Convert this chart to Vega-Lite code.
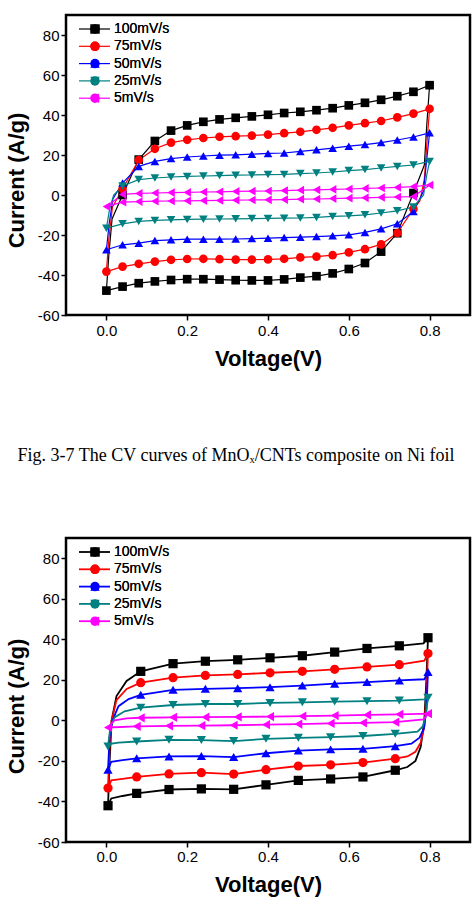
{
"$schema": "https://vega.github.io/schema/vega-lite/v6.json",
"background": "white",
"padding": {"left": 4, "top": 13, "right": 0, "bottom": 0},
"config": {
  "view": {"stroke": "black", "strokeWidth": 2.5},
  "axis": {"labelFont": "Liberation Sans", "labelFontSize": 15, "labelColor": "black", "titleFont": "Liberation Sans", "titleFontSize": 22, "titleFontWeight": "bold", "titleColor": "black", "grid": false, "domain": false, "tickColor": "black", "tickWidth": 1.5, "tickSize": 5},
  "legend": {"labelFont": "Liberation Sans", "labelColor": "black", "labelFontSize": 14, "padding": 0},
  "title": {"font": "Liberation Serif", "fontSize": 18, "fontWeight": "normal", "color": "black"}
},
"datasets": {
"a": [
{"s":"100mV/s","i":0,"v":0,"c":-47.8},{"s":"100mV/s","i":1,"v":0.006,"c":-30,"m":0},{"s":"100mV/s","i":2,"v":0.014,"c":-12,"m":0},{"s":"100mV/s","i":3,"v":0.04,"c":0},{"s":"100mV/s","i":4,"v":0.08,"c":17.7},{"s":"100mV/s","i":5,"v":0.12,"c":27.0},{"s":"100mV/s","i":6,"v":0.16,"c":32.2},{"s":"100mV/s","i":7,"v":0.2,"c":34.8},{"s":"100mV/s","i":8,"v":0.24,"c":36.6},{"s":"100mV/s","i":9,"v":0.28,"c":37.8},{"s":"100mV/s","i":10,"v":0.32,"c":38.6},{"s":"100mV/s","i":11,"v":0.36,"c":39.3},{"s":"100mV/s","i":12,"v":0.4,"c":40.1},{"s":"100mV/s","i":13,"v":0.44,"c":41.0},{"s":"100mV/s","i":14,"v":0.48,"c":41.6},{"s":"100mV/s","i":15,"v":0.52,"c":42.4},{"s":"100mV/s","i":16,"v":0.56,"c":43.4},{"s":"100mV/s","i":17,"v":0.6,"c":44.8},{"s":"100mV/s","i":18,"v":0.64,"c":46.1},{"s":"100mV/s","i":19,"v":0.68,"c":47.6},{"s":"100mV/s","i":20,"v":0.72,"c":49.4},{"s":"100mV/s","i":21,"v":0.76,"c":51.6},{"s":"100mV/s","i":22,"v":0.8,"c":54.9},{"s":"100mV/s","i":23,"v":0.793,"c":35,"m":0},{"s":"100mV/s","i":24,"v":0.787,"c":15,"m":0},{"s":"100mV/s","i":25,"v":0.76,"c":1.0},{"s":"100mV/s","i":26,"v":0.72,"c":-19.1},{"s":"100mV/s","i":27,"v":0.68,"c":-28.3},{"s":"100mV/s","i":28,"v":0.64,"c":-34.0},{"s":"100mV/s","i":29,"v":0.6,"c":-37.0},{"s":"100mV/s","i":30,"v":0.56,"c":-39.2},{"s":"100mV/s","i":31,"v":0.52,"c":-40.6},{"s":"100mV/s","i":32,"v":0.48,"c":-41.3},{"s":"100mV/s","i":33,"v":0.44,"c":-42.2},{"s":"100mV/s","i":34,"v":0.4,"c":-42.7},{"s":"100mV/s","i":35,"v":0.36,"c":-42.7},{"s":"100mV/s","i":36,"v":0.32,"c":-42.6},{"s":"100mV/s","i":37,"v":0.28,"c":-42.3},{"s":"100mV/s","i":38,"v":0.24,"c":-42.1},{"s":"100mV/s","i":39,"v":0.2,"c":-42.1},{"s":"100mV/s","i":40,"v":0.16,"c":-42.5},{"s":"100mV/s","i":41,"v":0.12,"c":-43.2},{"s":"100mV/s","i":42,"v":0.08,"c":-44.1},{"s":"100mV/s","i":43,"v":0.04,"c":-45.8},{"s":"100mV/s","i":44,"v":0,"c":-47.8,"m":0},
{"s":"75mV/s","i":0,"v":0,"c":-38.3},{"s":"75mV/s","i":1,"v":0.006,"c":-22,"m":0},{"s":"75mV/s","i":2,"v":0.015,"c":-6,"m":0},{"s":"75mV/s","i":3,"v":0.04,"c":3.0},{"s":"75mV/s","i":4,"v":0.08,"c":17.5},{"s":"75mV/s","i":5,"v":0.12,"c":23.1},{"s":"75mV/s","i":6,"v":0.16,"c":26.2},{"s":"75mV/s","i":7,"v":0.2,"c":27.6},{"s":"75mV/s","i":8,"v":0.24,"c":28.5},{"s":"75mV/s","i":9,"v":0.28,"c":29.1},{"s":"75mV/s","i":10,"v":0.32,"c":29.4},{"s":"75mV/s","i":11,"v":0.36,"c":29.7},{"s":"75mV/s","i":12,"v":0.4,"c":30.2},{"s":"75mV/s","i":13,"v":0.44,"c":30.9},{"s":"75mV/s","i":14,"v":0.48,"c":31.6},{"s":"75mV/s","i":15,"v":0.52,"c":32.6},{"s":"75mV/s","i":16,"v":0.56,"c":33.6},{"s":"75mV/s","i":17,"v":0.6,"c":34.8},{"s":"75mV/s","i":18,"v":0.64,"c":35.9},{"s":"75mV/s","i":19,"v":0.68,"c":37.0},{"s":"75mV/s","i":20,"v":0.72,"c":38.8},{"s":"75mV/s","i":21,"v":0.76,"c":40.7},{"s":"75mV/s","i":22,"v":0.8,"c":43.1},{"s":"75mV/s","i":23,"v":0.793,"c":25,"m":0},{"s":"75mV/s","i":24,"v":0.787,"c":8,"m":0},{"s":"75mV/s","i":25,"v":0.776,"c":-3,"m":0},{"s":"75mV/s","i":26,"v":0.76,"c":-7},{"s":"75mV/s","i":27,"v":0.72,"c":-19.0},{"s":"75mV/s","i":28,"v":0.68,"c":-24.7},{"s":"75mV/s","i":29,"v":0.64,"c":-27.1},{"s":"75mV/s","i":30,"v":0.6,"c":-28.7},{"s":"75mV/s","i":31,"v":0.56,"c":-30.1},{"s":"75mV/s","i":32,"v":0.52,"c":-30.8},{"s":"75mV/s","i":33,"v":0.48,"c":-31.2},{"s":"75mV/s","i":34,"v":0.44,"c":-31.9},{"s":"75mV/s","i":35,"v":0.4,"c":-32.2},{"s":"75mV/s","i":36,"v":0.36,"c":-32.3},{"s":"75mV/s","i":37,"v":0.32,"c":-32.3},{"s":"75mV/s","i":38,"v":0.28,"c":-32.1},{"s":"75mV/s","i":39,"v":0.24,"c":-31.9},{"s":"75mV/s","i":40,"v":0.2,"c":-32.0},{"s":"75mV/s","i":41,"v":0.16,"c":-32.4},{"s":"75mV/s","i":42,"v":0.12,"c":-33.3},{"s":"75mV/s","i":43,"v":0.08,"c":-34.4},{"s":"75mV/s","i":44,"v":0.04,"c":-35.8},{"s":"75mV/s","i":45,"v":0,"c":-38.3,"m":0},
{"s":"50mV/s","i":0,"v":0,"c":-27.4},{"s":"50mV/s","i":1,"v":0.007,"c":-14,"m":0},{"s":"50mV/s","i":2,"v":0.016,"c":-2,"m":0},{"s":"50mV/s","i":3,"v":0.04,"c":6.0},{"s":"50mV/s","i":4,"v":0.08,"c":14.3},{"s":"50mV/s","i":5,"v":0.12,"c":16.8},{"s":"50mV/s","i":6,"v":0.16,"c":18.2},{"s":"50mV/s","i":7,"v":0.2,"c":19.0},{"s":"50mV/s","i":8,"v":0.24,"c":19.5},{"s":"50mV/s","i":9,"v":0.28,"c":19.9},{"s":"50mV/s","i":10,"v":0.32,"c":20.1},{"s":"50mV/s","i":11,"v":0.36,"c":20.4},{"s":"50mV/s","i":12,"v":0.4,"c":20.8},{"s":"50mV/s","i":13,"v":0.44,"c":21.0},{"s":"50mV/s","i":14,"v":0.48,"c":21.8},{"s":"50mV/s","i":15,"v":0.52,"c":22.6},{"s":"50mV/s","i":16,"v":0.56,"c":23.4},{"s":"50mV/s","i":17,"v":0.6,"c":24.4},{"s":"50mV/s","i":18,"v":0.64,"c":25.2},{"s":"50mV/s","i":19,"v":0.68,"c":26.2},{"s":"50mV/s","i":20,"v":0.72,"c":27.5},{"s":"50mV/s","i":21,"v":0.76,"c":29.0},{"s":"50mV/s","i":22,"v":0.8,"c":31.1},{"s":"50mV/s","i":23,"v":0.793,"c":18,"m":0},{"s":"50mV/s","i":24,"v":0.785,"c":2,"m":0},{"s":"50mV/s","i":25,"v":0.76,"c":-8.2},{"s":"50mV/s","i":26,"v":0.72,"c":-14.4},{"s":"50mV/s","i":27,"v":0.68,"c":-16.9},{"s":"50mV/s","i":28,"v":0.64,"c":-18.7},{"s":"50mV/s","i":29,"v":0.6,"c":-19.9},{"s":"50mV/s","i":30,"v":0.56,"c":-20.4},{"s":"50mV/s","i":31,"v":0.52,"c":-20.8},{"s":"50mV/s","i":32,"v":0.48,"c":-21.1},{"s":"50mV/s","i":33,"v":0.44,"c":-21.3},{"s":"50mV/s","i":34,"v":0.4,"c":-21.6},{"s":"50mV/s","i":35,"v":0.36,"c":-21.8},{"s":"50mV/s","i":36,"v":0.32,"c":-22.0},{"s":"50mV/s","i":37,"v":0.28,"c":-22.1},{"s":"50mV/s","i":38,"v":0.24,"c":-22.1},{"s":"50mV/s","i":39,"v":0.2,"c":-22.1},{"s":"50mV/s","i":40,"v":0.16,"c":-22.4},{"s":"50mV/s","i":41,"v":0.12,"c":-22.8},{"s":"50mV/s","i":42,"v":0.08,"c":-24.1},{"s":"50mV/s","i":43,"v":0.04,"c":-24.9},{"s":"50mV/s","i":44,"v":0,"c":-27.4,"m":0},
{"s":"25mV/s","i":0,"v":0,"c":-16.6},{"s":"25mV/s","i":1,"v":0.008,"c":-7,"m":0},{"s":"25mV/s","i":2,"v":0.018,"c":0,"m":0},{"s":"25mV/s","i":3,"v":0.04,"c":4.5},{"s":"25mV/s","i":4,"v":0.08,"c":7.7},{"s":"25mV/s","i":5,"v":0.12,"c":8.5},{"s":"25mV/s","i":6,"v":0.16,"c":9.0},{"s":"25mV/s","i":7,"v":0.2,"c":9.3},{"s":"25mV/s","i":8,"v":0.24,"c":9.5},{"s":"25mV/s","i":9,"v":0.28,"c":9.7},{"s":"25mV/s","i":10,"v":0.32,"c":9.9},{"s":"25mV/s","i":11,"v":0.36,"c":10.0},{"s":"25mV/s","i":12,"v":0.4,"c":10.2},{"s":"25mV/s","i":13,"v":0.44,"c":10.3},{"s":"25mV/s","i":14,"v":0.48,"c":10.7},{"s":"25mV/s","i":15,"v":0.52,"c":11.0},{"s":"25mV/s","i":16,"v":0.56,"c":11.5},{"s":"25mV/s","i":17,"v":0.6,"c":12.2},{"s":"25mV/s","i":18,"v":0.64,"c":12.7},{"s":"25mV/s","i":19,"v":0.68,"c":13.5},{"s":"25mV/s","i":20,"v":0.72,"c":14.3},{"s":"25mV/s","i":21,"v":0.76,"c":15.0},{"s":"25mV/s","i":22,"v":0.8,"c":16.8},{"s":"25mV/s","i":23,"v":0.793,"c":10,"m":0},{"s":"25mV/s","i":24,"v":0.785,"c":0,"m":0},{"s":"25mV/s","i":25,"v":0.76,"c":-6.0},{"s":"25mV/s","i":26,"v":0.72,"c":-7.9},{"s":"25mV/s","i":27,"v":0.68,"c":-9.0},{"s":"25mV/s","i":28,"v":0.64,"c":-9.9},{"s":"25mV/s","i":29,"v":0.6,"c":-10.4},{"s":"25mV/s","i":30,"v":0.56,"c":-10.7},{"s":"25mV/s","i":31,"v":0.52,"c":-11.2},{"s":"25mV/s","i":32,"v":0.48,"c":-11.5},{"s":"25mV/s","i":33,"v":0.44,"c":-11.6},{"s":"25mV/s","i":34,"v":0.4,"c":-11.7},{"s":"25mV/s","i":35,"v":0.36,"c":-11.8},{"s":"25mV/s","i":36,"v":0.32,"c":-11.9},{"s":"25mV/s","i":37,"v":0.28,"c":-12.0},{"s":"25mV/s","i":38,"v":0.24,"c":-12.1},{"s":"25mV/s","i":39,"v":0.2,"c":-12.2},{"s":"25mV/s","i":40,"v":0.16,"c":-12.4},{"s":"25mV/s","i":41,"v":0.12,"c":-12.7},{"s":"25mV/s","i":42,"v":0.08,"c":-13.2},{"s":"25mV/s","i":43,"v":0.04,"c":-14.4},{"s":"25mV/s","i":44,"v":0,"c":-16.6,"m":0},
{"s":"5mV/s","i":0,"v":0,"c":-5.8},{"s":"5mV/s","i":1,"v":0.04,"c":0.3},{"s":"5mV/s","i":2,"v":0.08,"c":0.8},{"s":"5mV/s","i":3,"v":0.12,"c":1.0},{"s":"5mV/s","i":4,"v":0.16,"c":1.2},{"s":"5mV/s","i":5,"v":0.2,"c":1.3},{"s":"5mV/s","i":6,"v":0.24,"c":1.5},{"s":"5mV/s","i":7,"v":0.28,"c":1.6},{"s":"5mV/s","i":8,"v":0.32,"c":1.8},{"s":"5mV/s","i":9,"v":0.36,"c":1.9},{"s":"5mV/s","i":10,"v":0.4,"c":2.0},{"s":"5mV/s","i":11,"v":0.44,"c":2.2},{"s":"5mV/s","i":12,"v":0.48,"c":2.4},{"s":"5mV/s","i":13,"v":0.52,"c":2.6},{"s":"5mV/s","i":14,"v":0.56,"c":2.8},{"s":"5mV/s","i":15,"v":0.6,"c":3.0},{"s":"5mV/s","i":16,"v":0.64,"c":3.3},{"s":"5mV/s","i":17,"v":0.68,"c":3.5},{"s":"5mV/s","i":18,"v":0.72,"c":3.8},{"s":"5mV/s","i":19,"v":0.76,"c":4.2},{"s":"5mV/s","i":20,"v":0.8,"c":5.0},{"s":"5mV/s","i":21,"v":0.76,"c":-0.8},{"s":"5mV/s","i":22,"v":0.72,"c":-1.0},{"s":"5mV/s","i":23,"v":0.68,"c":-1.2},{"s":"5mV/s","i":24,"v":0.64,"c":-1.4},{"s":"5mV/s","i":25,"v":0.6,"c":-1.6},{"s":"5mV/s","i":26,"v":0.56,"c":-1.8},{"s":"5mV/s","i":27,"v":0.52,"c":-2.0},{"s":"5mV/s","i":28,"v":0.48,"c":-2.1},{"s":"5mV/s","i":29,"v":0.44,"c":-2.3},{"s":"5mV/s","i":30,"v":0.4,"c":-2.4},{"s":"5mV/s","i":31,"v":0.36,"c":-2.5},{"s":"5mV/s","i":32,"v":0.32,"c":-2.6},{"s":"5mV/s","i":33,"v":0.28,"c":-2.7},{"s":"5mV/s","i":34,"v":0.24,"c":-2.8},{"s":"5mV/s","i":35,"v":0.2,"c":-2.9},{"s":"5mV/s","i":36,"v":0.16,"c":-3.0},{"s":"5mV/s","i":37,"v":0.12,"c":-3.1},{"s":"5mV/s","i":38,"v":0.08,"c":-3.3},{"s":"5mV/s","i":39,"v":0.04,"c":-3.6},{"s":"5mV/s","i":40,"v":0,"c":-5.8,"m":0}
],
"b": [
{"s":"100mV/s","i":0,"v":0.004,"c":-42.1},{"s":"100mV/s","i":1,"v":0.008,"c":-20,"m":0},{"s":"100mV/s","i":2,"v":0.013,"c":0,"m":0},{"s":"100mV/s","i":3,"v":0.025,"c":12,"m":0},{"s":"100mV/s","i":4,"v":0.05,"c":19.5,"m":0},{"s":"100mV/s","i":5,"v":0.085,"c":24.2},{"s":"100mV/s","i":6,"v":0.165,"c":28.0},{"s":"100mV/s","i":7,"v":0.245,"c":29.2},{"s":"100mV/s","i":8,"v":0.325,"c":29.9},{"s":"100mV/s","i":9,"v":0.405,"c":30.9},{"s":"100mV/s","i":10,"v":0.485,"c":31.9},{"s":"100mV/s","i":11,"v":0.565,"c":33.7},{"s":"100mV/s","i":12,"v":0.645,"c":35.5},{"s":"100mV/s","i":13,"v":0.725,"c":36.8},{"s":"100mV/s","i":14,"v":0.785,"c":38,"m":0},{"s":"100mV/s","i":15,"v":0.796,"c":40.8},{"s":"100mV/s","i":16,"v":0.792,"c":20,"m":0},{"s":"100mV/s","i":17,"v":0.787,"c":0,"m":0},{"s":"100mV/s","i":18,"v":0.778,"c":-13,"m":0},{"s":"100mV/s","i":19,"v":0.765,"c":-20,"m":0},{"s":"100mV/s","i":20,"v":0.745,"c":-23,"m":0},{"s":"100mV/s","i":21,"v":0.715,"c":-24.6},{"s":"100mV/s","i":22,"v":0.635,"c":-27.9},{"s":"100mV/s","i":23,"v":0.555,"c":-28.9},{"s":"100mV/s","i":24,"v":0.475,"c":-29.6},{"s":"100mV/s","i":25,"v":0.395,"c":-31.8},{"s":"100mV/s","i":26,"v":0.315,"c":-34.0},{"s":"100mV/s","i":27,"v":0.235,"c":-33.8},{"s":"100mV/s","i":28,"v":0.155,"c":-34.1},{"s":"100mV/s","i":29,"v":0.075,"c":-36.0},{"s":"100mV/s","i":30,"v":0.04,"c":-37.3,"m":0},{"s":"100mV/s","i":31,"v":0.012,"c":-38.5,"m":0},{"s":"100mV/s","i":32,"v":0.004,"c":-42.1,"m":0},
{"s":"75mV/s","i":0,"v":0.004,"c":-33.4},{"s":"75mV/s","i":1,"v":0.008,"c":-12,"m":0},{"s":"75mV/s","i":2,"v":0.013,"c":0,"m":0},{"s":"75mV/s","i":3,"v":0.025,"c":10,"m":0},{"s":"75mV/s","i":4,"v":0.05,"c":15.5,"m":0},{"s":"75mV/s","i":5,"v":0.085,"c":18.6},{"s":"75mV/s","i":6,"v":0.165,"c":21.1},{"s":"75mV/s","i":7,"v":0.245,"c":22.2},{"s":"75mV/s","i":8,"v":0.325,"c":22.7},{"s":"75mV/s","i":9,"v":0.405,"c":23.5},{"s":"75mV/s","i":10,"v":0.485,"c":24.2},{"s":"75mV/s","i":11,"v":0.565,"c":25.2},{"s":"75mV/s","i":12,"v":0.645,"c":26.4},{"s":"75mV/s","i":13,"v":0.725,"c":27.5},{"s":"75mV/s","i":14,"v":0.787,"c":29.5,"m":0},{"s":"75mV/s","i":15,"v":0.796,"c":33.0},{"s":"75mV/s","i":16,"v":0.792,"c":12,"m":0},{"s":"75mV/s","i":17,"v":0.787,"c":-3,"m":0},{"s":"75mV/s","i":18,"v":0.778,"c":-11,"m":0},{"s":"75mV/s","i":19,"v":0.765,"c":-15.5,"m":0},{"s":"75mV/s","i":20,"v":0.745,"c":-17.8,"m":0},{"s":"75mV/s","i":21,"v":0.715,"c":-18.9},{"s":"75mV/s","i":22,"v":0.635,"c":-20.8},{"s":"75mV/s","i":23,"v":0.555,"c":-21.9},{"s":"75mV/s","i":24,"v":0.475,"c":-22.5},{"s":"75mV/s","i":25,"v":0.395,"c":-24.3},{"s":"75mV/s","i":26,"v":0.315,"c":-26.5},{"s":"75mV/s","i":27,"v":0.235,"c":-25.8},{"s":"75mV/s","i":28,"v":0.155,"c":-26.4},{"s":"75mV/s","i":29,"v":0.075,"c":-27.9},{"s":"75mV/s","i":30,"v":0.04,"c":-28.8,"m":0},{"s":"75mV/s","i":31,"v":0.012,"c":-29.6,"m":0},{"s":"75mV/s","i":32,"v":0.004,"c":-33.4,"m":0},
{"s":"50mV/s","i":0,"v":0.004,"c":-24.3},{"s":"50mV/s","i":1,"v":0.008,"c":-8,"m":0},{"s":"50mV/s","i":2,"v":0.015,"c":0,"m":0},{"s":"50mV/s","i":3,"v":0.03,"c":7,"m":0},{"s":"50mV/s","i":4,"v":0.055,"c":10.5,"m":0},{"s":"50mV/s","i":5,"v":0.085,"c":12.6},{"s":"50mV/s","i":6,"v":0.165,"c":15.1},{"s":"50mV/s","i":7,"v":0.245,"c":15.6},{"s":"50mV/s","i":8,"v":0.325,"c":15.9},{"s":"50mV/s","i":9,"v":0.405,"c":16.4},{"s":"50mV/s","i":10,"v":0.485,"c":17.2},{"s":"50mV/s","i":11,"v":0.565,"c":18.1},{"s":"50mV/s","i":12,"v":0.645,"c":18.9},{"s":"50mV/s","i":13,"v":0.725,"c":19.7},{"s":"50mV/s","i":14,"v":0.787,"c":20.3,"m":0},{"s":"50mV/s","i":15,"v":0.796,"c":23.9},{"s":"50mV/s","i":16,"v":0.792,"c":5,"m":0},{"s":"50mV/s","i":17,"v":0.786,"c":-4,"m":0},{"s":"50mV/s","i":18,"v":0.775,"c":-8.5,"m":0},{"s":"50mV/s","i":19,"v":0.755,"c":-11.5,"m":0},{"s":"50mV/s","i":20,"v":0.715,"c":-12.7},{"s":"50mV/s","i":21,"v":0.635,"c":-14.0},{"s":"50mV/s","i":22,"v":0.555,"c":-14.3},{"s":"50mV/s","i":23,"v":0.475,"c":-14.9},{"s":"50mV/s","i":24,"v":0.395,"c":-16.2},{"s":"50mV/s","i":25,"v":0.315,"c":-18.1},{"s":"50mV/s","i":26,"v":0.235,"c":-17.6},{"s":"50mV/s","i":27,"v":0.155,"c":-17.8},{"s":"50mV/s","i":28,"v":0.075,"c":-18.7},{"s":"50mV/s","i":29,"v":0.04,"c":-19.6,"m":0},{"s":"50mV/s","i":30,"v":0.012,"c":-20.4,"m":0},{"s":"50mV/s","i":31,"v":0.004,"c":-24.3,"m":0},
{"s":"25mV/s","i":0,"v":0.004,"c":-12.9},{"s":"25mV/s","i":1,"v":0.01,"c":-3,"m":0},{"s":"25mV/s","i":2,"v":0.02,"c":1.5,"m":0},{"s":"25mV/s","i":3,"v":0.045,"c":4.5,"m":0},{"s":"25mV/s","i":4,"v":0.085,"c":6.3},{"s":"25mV/s","i":5,"v":0.165,"c":7.6},{"s":"25mV/s","i":6,"v":0.245,"c":8.1},{"s":"25mV/s","i":7,"v":0.325,"c":8.1},{"s":"25mV/s","i":8,"v":0.405,"c":8.6},{"s":"25mV/s","i":9,"v":0.485,"c":8.9},{"s":"25mV/s","i":10,"v":0.565,"c":9.3},{"s":"25mV/s","i":11,"v":0.645,"c":9.5},{"s":"25mV/s","i":12,"v":0.725,"c":9.8},{"s":"25mV/s","i":13,"v":0.787,"c":10.4,"m":0},{"s":"25mV/s","i":14,"v":0.796,"c":11.2},{"s":"25mV/s","i":15,"v":0.79,"c":2,"m":0},{"s":"25mV/s","i":16,"v":0.783,"c":-3,"m":0},{"s":"25mV/s","i":17,"v":0.77,"c":-5.5,"m":0},{"s":"25mV/s","i":18,"v":0.715,"c":-6.6},{"s":"25mV/s","i":19,"v":0.635,"c":-7.7},{"s":"25mV/s","i":20,"v":0.555,"c":-8.3},{"s":"25mV/s","i":21,"v":0.475,"c":-8.6},{"s":"25mV/s","i":22,"v":0.395,"c":-9.1},{"s":"25mV/s","i":23,"v":0.315,"c":-10.2},{"s":"25mV/s","i":24,"v":0.235,"c":-9.7},{"s":"25mV/s","i":25,"v":0.155,"c":-9.6},{"s":"25mV/s","i":26,"v":0.075,"c":-10.4},{"s":"25mV/s","i":27,"v":0.03,"c":-11.0,"m":0},{"s":"25mV/s","i":28,"v":0.01,"c":-11.6,"m":0},{"s":"25mV/s","i":29,"v":0.004,"c":-12.9,"m":0},
{"s":"5mV/s","i":0,"v":0.004,"c":-3.5},{"s":"5mV/s","i":1,"v":0.02,"c":0,"m":0},{"s":"5mV/s","i":2,"v":0.05,"c":1.0,"m":0},{"s":"5mV/s","i":3,"v":0.085,"c":1.3},{"s":"5mV/s","i":4,"v":0.165,"c":1.5},{"s":"5mV/s","i":5,"v":0.245,"c":1.6},{"s":"5mV/s","i":6,"v":0.325,"c":1.7},{"s":"5mV/s","i":7,"v":0.405,"c":1.9},{"s":"5mV/s","i":8,"v":0.485,"c":2.1},{"s":"5mV/s","i":9,"v":0.565,"c":2.4},{"s":"5mV/s","i":10,"v":0.645,"c":2.7},{"s":"5mV/s","i":11,"v":0.725,"c":3.0},{"s":"5mV/s","i":12,"v":0.796,"c":3.3},{"s":"5mV/s","i":13,"v":0.785,"c":0.5,"m":0},{"s":"5mV/s","i":14,"v":0.715,"c":-0.9},{"s":"5mV/s","i":15,"v":0.635,"c":-1.2},{"s":"5mV/s","i":16,"v":0.555,"c":-1.5},{"s":"5mV/s","i":17,"v":0.475,"c":-1.8},{"s":"5mV/s","i":18,"v":0.395,"c":-2.1},{"s":"5mV/s","i":19,"v":0.315,"c":-2.4},{"s":"5mV/s","i":20,"v":0.235,"c":-2.6},{"s":"5mV/s","i":21,"v":0.155,"c":-2.7},{"s":"5mV/s","i":22,"v":0.075,"c":-2.9},{"s":"5mV/s","i":23,"v":0.004,"c":-3.5,"m":0}
]
},
"spacing": 74,
"resolve": {"scale": {"stroke": "independent", "fill": "independent", "shape": "independent"}, "legend": {"stroke": "independent", "fill": "independent", "shape": "independent"}},
"vconcat": [
{
 "width": 404, "height": 300,
 "data": {"name": "a"},
 "layer": [
  {"mark": {"type": "line", "strokeWidth": 1.2},
   "encoding": {
    "x": {"field": "v", "type": "quantitative", "scale": {"domain": [-0.1, 0.9], "nice": false, "zero": false}, "axis": {"values": [0, 0.2, 0.4, 0.6, 0.8], "format": ".1f", "title": "Voltage(V)", "labelPadding": 3, "titlePadding": 10}},
    "y": {"field": "c", "type": "quantitative", "scale": {"domain": [-60, 90], "nice": false}, "axis": {"values": [-60, -40, -20, 0, 20, 40, 60, 80], "title": "Current (A/g)", "labelExpr": "replace(datum.label, '−', '-')", "labelPadding": 2, "titlePadding": 9, "titleY": 165}},
    "stroke": {"field": "s", "type": "nominal", "scale": {"domain": ["100mV/s", "75mV/s", "50mV/s", "25mV/s", "5mV/s"], "range": ["#000000", "#ff0000", "#0000ff", "#008080", "#ff00ff"]}, "legend": {"title": null, "orient": "top-left", "offset": 7, "symbolType": "M-0.2,0H6", "symbolSize": 100, "symbolStrokeWidth": 1.2, "labelExpr": "' '", "rowPadding": 3.3}},
    "order": {"field": "i", "type": "quantitative"}
   }},
  {"transform": [{"filter": "datum.m != 0"}],
   "mark": {"type": "point", "filled": true, "size": 75, "opacity": 1, "strokeWidth": 0},
   "encoding": {
    "x": {"field": "v", "type": "quantitative"},
    "y": {"field": "c", "type": "quantitative"},
    "fill": {"field": "s", "type": "nominal", "scale": {"domain": ["100mV/s", "75mV/s", "50mV/s", "25mV/s", "5mV/s"], "range": ["#000000", "#ff0000", "#0000ff", "#008080", "#ff00ff"]}, "legend": {"title": null, "orient": "none", "legendX": 22, "legendY": 7, "symbolSize": 90, "symbolStrokeWidth": 0, "labelOffset": 12, "rowPadding": 3.3}},
    "shape": {"field": "s", "type": "nominal", "scale": {"domain": ["100mV/s", "75mV/s", "50mV/s", "25mV/s", "5mV/s"], "range": ["square", "circle", "triangle-up", "triangle-down", "triangle-left"]}, "legend": {"title": null, "orient": "none", "legendX": 22, "legendY": 7, "symbolSize": 90, "symbolStrokeWidth": 0, "labelOffset": 12, "rowPadding": 3.3}}
   }}
 ]
},
{
 "width": 404, "height": 304,
 "title": {"text": "Fig. 3-7 The CV curves of MnOₓ/CNTs composite on Ni foil", "offset": 73, "anchor": "middle", "frame": "group", "dx": -32},
 "data": {"name": "b"},
 "layer": [
  {"mark": {"type": "line", "strokeWidth": 1.8},
   "encoding": {
    "x": {"field": "v", "type": "quantitative", "scale": {"domain": [-0.1, 0.9], "nice": false, "zero": false}, "axis": {"values": [0, 0.2, 0.4, 0.6, 0.8], "format": ".1f", "title": "Voltage(V)", "labelPadding": 2, "titlePadding": 10}},
    "y": {"field": "c", "type": "quantitative", "scale": {"domain": [-60, 90], "nice": false}, "axis": {"values": [-60, -40, -20, 0, 20, 40, 60, 80], "title": "Current (A/g)", "labelExpr": "replace(datum.label, '−', '-')", "labelPadding": 2, "titlePadding": 9, "titleY": 168}},
    "stroke": {"field": "s", "type": "nominal", "scale": {"domain": ["100mV/s", "75mV/s", "50mV/s", "25mV/s", "5mV/s"], "range": ["#000000", "#ff0000", "#0000ff", "#008080", "#ff00ff"]}, "legend": {"title": null, "orient": "top-left", "offset": 7, "symbolType": "M-0.2,0H6", "symbolSize": 100, "symbolStrokeWidth": 1.8, "labelExpr": "' '", "rowPadding": 3.3}},
    "order": {"field": "i", "type": "quantitative"}
   }},
  {"transform": [{"filter": "datum.m != 0"}],
   "mark": {"type": "point", "filled": true, "size": 85, "opacity": 1, "strokeWidth": 0},
   "encoding": {
    "x": {"field": "v", "type": "quantitative"},
    "y": {"field": "c", "type": "quantitative"},
    "fill": {"field": "s", "type": "nominal", "scale": {"domain": ["100mV/s", "75mV/s", "50mV/s", "25mV/s", "5mV/s"], "range": ["#000000", "#ff0000", "#0000ff", "#008080", "#ff00ff"]}, "legend": {"title": null, "orient": "none", "legendX": 22, "legendY": 7, "symbolSize": 90, "symbolStrokeWidth": 0, "labelOffset": 12, "rowPadding": 3.3}},
    "shape": {"field": "s", "type": "nominal", "scale": {"domain": ["100mV/s", "75mV/s", "50mV/s", "25mV/s", "5mV/s"], "range": ["square", "circle", "triangle-up", "triangle-down", "triangle-left"]}, "legend": {"title": null, "orient": "none", "legendX": 22, "legendY": 7, "symbolSize": 90, "symbolStrokeWidth": 0, "labelOffset": 12, "rowPadding": 3.3}}
   }}
 ]
}
]
}
